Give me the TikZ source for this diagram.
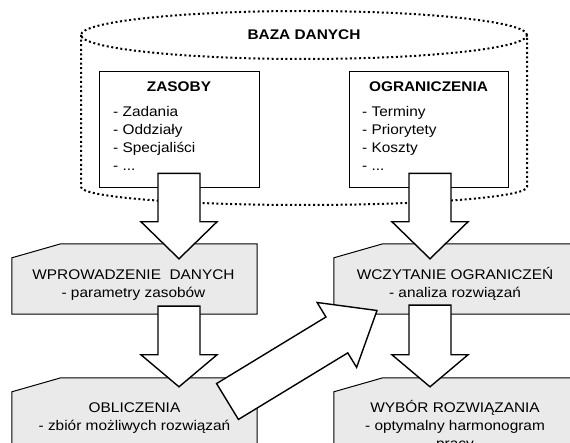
\documentclass[tikz,border=0pt]{standalone}
\usepackage{fontspec}
\setmainfont{Liberation Sans}[FakeStretch=1.1]
\usepackage{tikz}
\usetikzlibrary{calc}
\definecolor{boxgray}{RGB}{234,234,234}
\def\shaftW{21pt}
\def\headW{38pt}
\def\cutW{49pt}
\def\cutH{14pt}
\newcommand{\blockarrow}[3]{%
% #1 = tail, #2 = tip, #3 = head length
\coordinate (#2-hb) at ($(#2)!#3!(#1)$);
\draw[blockarrow]
($(#1)!\shaftW!90:(#2)$) --
($(#2-hb)!\shaftW!90:(#2)$) --
($(#2-hb)!\headW!90:(#2)$) --
(#2) --
($(#2-hb)!\headW!-90:(#2)$) --
($(#2-hb)!\shaftW!-90:(#2)$) --
($(#1)!\shaftW!-90:(#2)$) -- cycle;
}
\newcommand{\chamferbox}[1]{%
% #1 = node, cut corner top left
\draw[stageline]
([yshift=-\cutH]#1.north west) -- ([xshift=\cutW]#1.north west) --
(#1.north east) -- (#1.south east) -- (#1.south west) -- cycle;
}

\begin{document}
\begin{tikzpicture}[
    x=1pt, y=1pt,
    every node/.style={inner sep=0pt},
    font=\fontsize{14}{18}\selectfont,
    bold/.style={font=\fontsize{14}{18}\selectfont\bfseries},
    dbline/.style={line width=2pt, dash pattern=on 2pt off 2.6pt},
    dbbox/.style={draw, line width=0.9pt, fill=white, minimum width=160pt, minimum height=116pt},
    listtext/.style={align=left, anchor=base west},
    stagebox/.style={minimum width=245pt, minimum height=70pt},
    stageline/.style={draw, line width=1pt, fill=boxgray},
    stagetext/.style={align=center, anchor=base},
    blockarrow/.style={draw, line width=1.4pt, fill=white, line join=miter}
]
\useasboundingbox (0,0) rectangle (570,-443);
\clip (0,0) rectangle (570,-443);

% baza danych
\draw[dbline] (304,-35) ellipse [x radius=223, y radius=24];
\draw[dbline] (81,-35) -- (81,-187)
    arc[start angle=180, end angle=360, x radius=223, y radius=18] -- (527,-35);
\node[bold] (baza) at (304,-35) {BAZA DANYCH};

\node[dbbox] (zas) at (179,-129) {};
\node[dbbox, minimum width=159pt] (ogr) at (428.5,-129) {};
\node[bold, anchor=base] (zast) at (179,-92) {ZASOBY};
\node[bold, anchor=base] (ogrt) at (428.5,-92) {OGRANICZENIA};
% base = last line
\node[listtext] (zasl) at (113,-171) {- Zadania\\- Oddziały\\- Specjaliści\\- ...};
\node[listtext] (ogrl) at (362,-171) {- Terminy\\- Priorytety\\- Koszty\\- ...};

% etapy
\node[stagebox] (wpr) at (134.5,-279) {};
\chamferbox{wpr}
\node[stagetext] (wprt) at (133.5,-298) {WPROWADZENIE\ \ DANYCH\\- parametry zasobów};

\node[stagebox] (wcz) at (456.5,-279) {};
\chamferbox{wcz}
\node[stagetext] (wczt) at (455,-298) {WCZYTANIE OGRANICZEŃ\\- analiza rozwiązań};

\node[stagebox] (obl) at (134.5,-413) {};
\chamferbox{obl}
\node[stagetext] (oblt) at (134.5,-430) {OBLICZENIA\\- zbiór możliwych rozwiązań};

\node[stagebox] (wyb) at (456.5,-413) {};
\chamferbox{wyb}
\node[stagetext] (wybt) at (455,-448) {WYBÓR ROZWIĄZANIA\\- optymalny harmonogram\\pracy};

% strzalki
\coordinate (a1s) at ($(zas.south)+(0,14)$);
\coordinate (a1e) at ($(wpr.north -| zas.south)+(0,-15)$);
\coordinate (a2s) at ($(ogr.south)+(1.5,14)$);
\coordinate (a2e) at ($(wcz.north -| a2s)+(0,-15)$);
\coordinate (a3s) at ($(wpr.south -| zas.south)+(0,8)$);
\coordinate (a3e) at ($(obl.north -| zas.south)+(0,-9)$);
\coordinate (a4s) at ($(wcz.south -| a2s)+(0,9)$);
\coordinate (a4e) at ($(wyb.north -| a2s)+(0,-9)$);
\coordinate (a5s) at (227.5,-401.5);
\coordinate (a5e) at (377,-310.5);

\blockarrow{a1s}{a1e}{37pt}
\blockarrow{a2s}{a2e}{37pt}
\blockarrow{a3s}{a3e}{32pt}
\blockarrow{a4s}{a4e}{32pt}
\blockarrow{a5s}{a5e}{47pt}
\end{tikzpicture}
\end{document}
